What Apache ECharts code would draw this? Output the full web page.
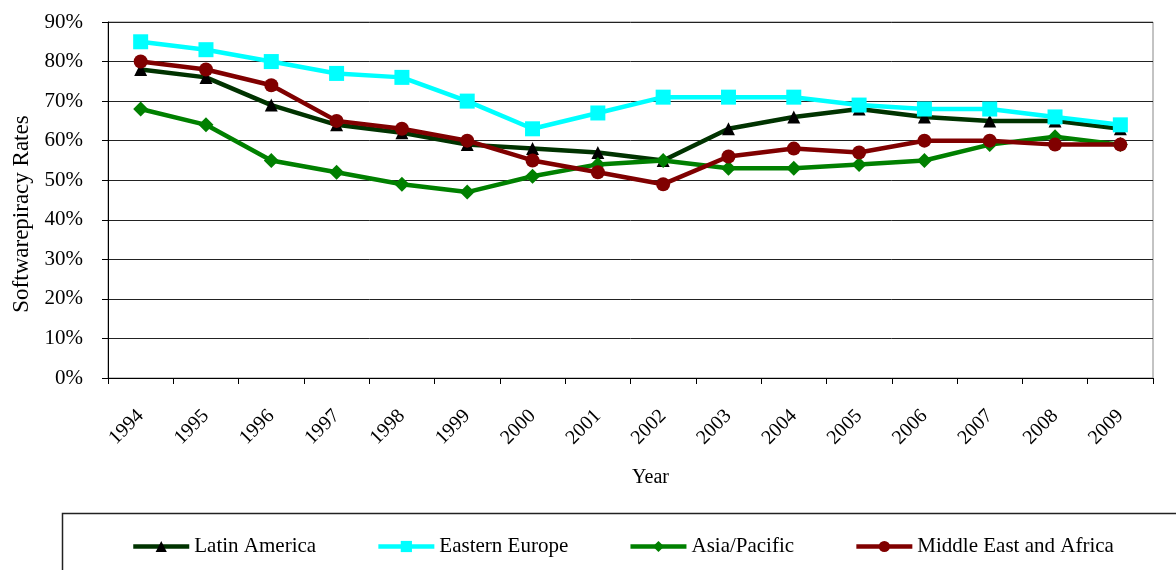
<!DOCTYPE html>
<html><head><meta charset="utf-8">
<script src="https://cdn.jsdelivr.net/npm/echarts@6/dist/echarts.min.js"></script>
<style>html,body{margin:0;padding:0;background:#fff}#c{width:1176px;height:570px}</style>
</head><body><div id="c"></div>
<script>
const years = ['1994','1995','1996','1997','1998','1999','2000','2001','2002','2003','2004','2005','2006','2007','2008','2009'];
const latinAmerica = [78,76,69,64,62,59,58,57,55,63,66,68,66,65,65,63];
const easternEurope = [85,83,80,77,76,70,63,67,71,71,71,69,68,68,66,64];
const asiaPacific = [68,64,55,52,49,47,51,54,55,53,53,54,55,59,61,59];
const middleEastAfrica = [80,78,74,65,63,60,55,52,49,56,58,57,60,60,59,59];
const seriesNames = ['Latin America','Eastern Europe','Asia/Pacific','Middle East and Africa'];

const font = '"Liberation Serif", "Times New Roman", serif';
const chart = echarts.init(document.getElementById('c'));
function mk(name, data, color, symbol, symColor, size) {
  return {name, type:'line', data, symbol, symbolSize:size, z: 3,
    lineStyle:{color, width:4.5}, itemStyle:{color: symColor},
    emphasis:{disabled:true}};
}
const legendColors = [['#003300','#000','triangle'],['#00FFFF','#00FFFF','rect'],['#008000','#008000','diamond'],['#800000','#800000','circle']];
chart.setOption({
  animation:false,
  textStyle:{fontFamily:font},
  grid:{left:108, right:23, top:22, bottom:192, containLabel:false,
        show:true, borderColor:'#888', borderWidth:1, backgroundColor:'transparent'},
  graphic:[{type:'rect', shape:{x:62.5, y:513.5, width:1130, height:80}, style:{fill:'none', stroke:'#222', lineWidth:1.5}, z:-1}],
  legend:{top:536, left:131, padding:0, itemWidth:56, itemHeight:14, itemGap:60,
    textStyle:{fontFamily:font, fontSize:21, color:'#000'},
    data: seriesNames.map((n,i)=>({name:n, lineStyle:{width:4.5, color:legendColors[i][0]}, itemStyle:{color:legendColors[i][1]}}))},
  xAxis:{type:'category', data:years, boundaryGap:true, name:'Year', nameLocation:'middle', nameGap:90,
    nameTextStyle:{fontFamily:font, fontSize:20, color:'#000', padding:[0,0,0,40]},
    axisLine:{lineStyle:{color:'#000', width:1}},
    axisTick:{show:true, alignWithLabel:false, length:6, lineStyle:{color:'#000'}},
    axisLabel:{rotate:45, fontFamily:font, fontSize:20, color:'#000', margin:35, interval:0},
    splitLine:{show:false}},
  yAxis:{type:'value', min:0, max:90, interval:10, name:'Softwarepiracy Rates', nameLocation:'middle', nameGap:73,
    nameTextStyle:{fontFamily:font, fontSize:23, color:'#000', padding:[0,28,0,0]},
    axisLine:{show:true, lineStyle:{color:'#000', width:1}},
    axisTick:{show:true, length:6, lineStyle:{color:'#000'}},
    axisLabel:{fontFamily:font, fontSize:21, color:'#000', margin:25, formatter: v => v + '%'},
    splitLine:{show:true, lineStyle:{color:'#222', width:1}}},
  series:[
    mk(seriesNames[0], latinAmerica, '#003300', 'triangle', '#000', 13),
    mk(seriesNames[1], easternEurope, '#00FFFF', 'rect', '#00FFFF', 15),
    mk(seriesNames[2], asiaPacific, '#008000', 'diamond', '#008000', 15),
    mk(seriesNames[3], middleEastAfrica, '#800000', 'circle', '#800000', 14)
  ]
});
</script></body></html>
